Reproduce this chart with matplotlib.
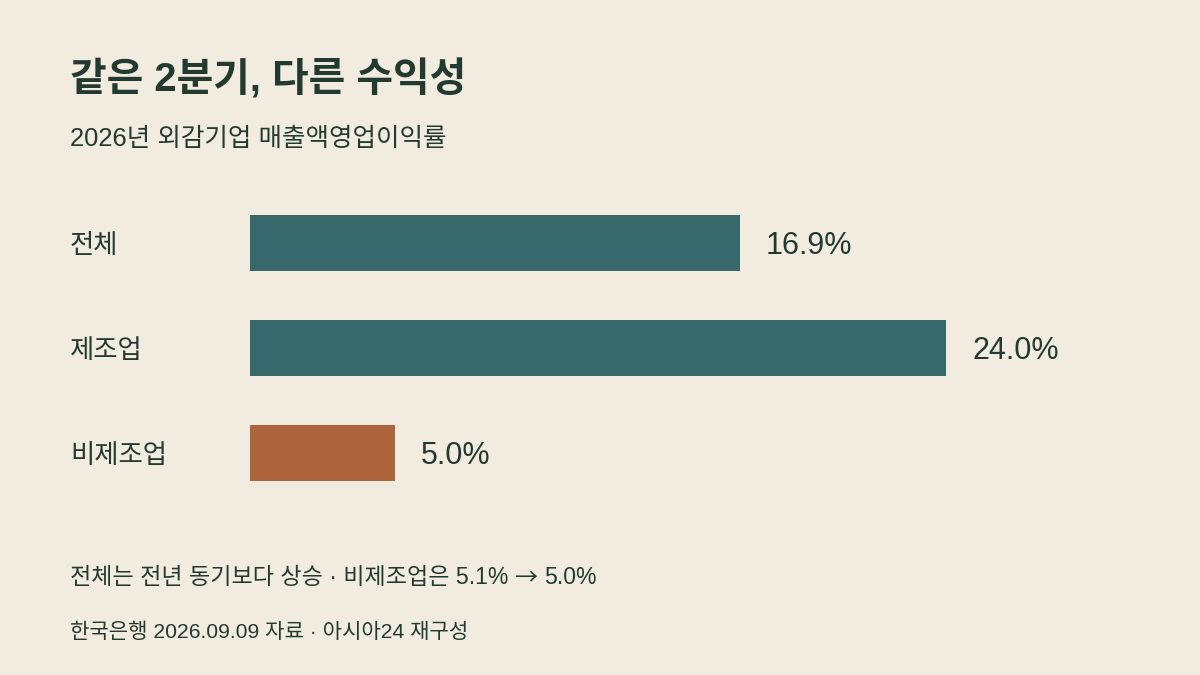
import matplotlib
matplotlib.use("Agg")
import matplotlib.pyplot as plt

categories = ["전체", "제조업", "비제조업"]
values = [16.9, 24.0, 5.0]
value_labels = ["16.9%", "24.0%", "5.0%"]
highlight = [False, False, True]

BG = "#F1ECDF"
INK = "#233A31"
TEAL = "#37686B"
ORANGE = "#AD643C"

plt.rcParams["font.family"] = ["Liberation Sans", "Noto Sans CJK KR", "DejaVu Sans"]

W, H = 1200, 675
fig = plt.figure(figsize=(W / 100, H / 100), dpi=100, facecolor=BG)

# axes: x from 250px to 1200px, scale 29 px per unit
px_per_unit = 29.0
ax_left, ax_right = 250, 1200
ax_top, ax_bottom = 190, 505
row0_px, row_gap_px = 243, 105
ax = fig.add_axes([ax_left / W, 1 - ax_bottom / H, (ax_right - ax_left) / W, (ax_bottom - ax_top) / H])
ax.set_facecolor(BG)
ax.set_xlim(0, (ax_right - ax_left) / px_per_unit)
n = len(categories)
ys = list(range(n))
ax.set_ylim((ax_bottom - row0_px) / row_gap_px, (ax_top - row0_px) / row_gap_px)
colors = [ORANGE if h else TEAL for h in highlight]
ax.barh(ys, values, height=56 / row_gap_px, color=colors, left=0)
for y, v, lab in zip(ys, values, value_labels):
    ax.text(v + 26 / px_per_unit, y + 3 / row_gap_px, lab, va="center", ha="left", fontsize=22, color=INK)
for sp in ax.spines.values():
    sp.set_visible(False)
ax.set_xticks([])
ax.set_yticks([])

# category labels
for y, c in zip(ys, categories):
    py = row0_px + row_gap_px * y + 3
    fig.text(70 / W, 1 - py / H, c, ha="left", va="center", fontsize=19, color=INK)

fig.text(70 / W, 1 - 79 / H, "같은 2분기, 다른 수익성", ha="left", va="center",
         fontsize=28.7, fontweight="bold", color=INK)
fig.text(70 / W, 1 - 139 / H, "2026년 외감기업 매출액영업이익률", ha="left", va="center",
         fontsize=18.4, color=INK)

# footnote with a long thin arrow glyph
foot_base = 1 - 584 / H
t1 = fig.text(70 / W, foot_base, "전체는 전년 동기보다 상승 · 비제조업은 5.1%", ha="left", va="baseline",
              fontsize=16.6, color=INK)
fig.canvas.draw()
r = fig.canvas.get_renderer()
x1 = t1.get_window_extent(r).x1
t2 = fig.text((x1 + 6) / W, foot_base, "→", ha="left", va="baseline",
              fontsize=16.6, color=INK, family=["Noto Sans CJK KR"])
x2 = t2.get_window_extent(r).x1
fig.text((x2 + 7) / W, foot_base, "5.0%", ha="left", va="baseline", fontsize=16.6, color=INK)

fig.text(70 / W, 1 - 632 / H, "한국은행 2026.09.09 자료 · 아시아24 재구성", ha="left", va="center",
         fontsize=15.2, color=INK)

fig.savefig("out.png", dpi=100, facecolor=BG)
